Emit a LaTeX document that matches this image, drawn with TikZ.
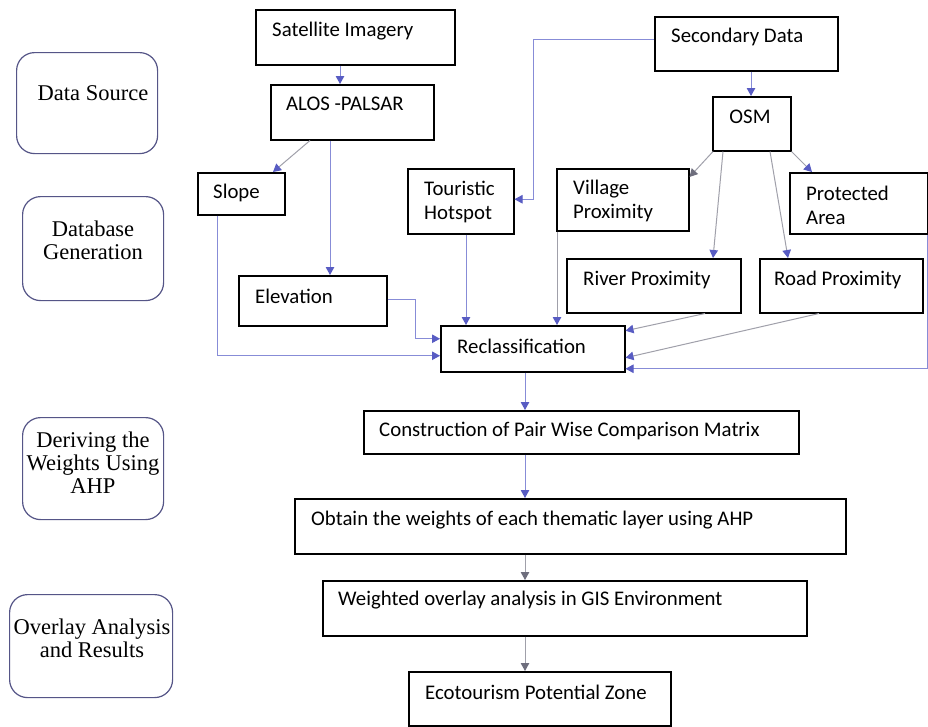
\documentclass[tikz,border=0pt]{standalone}
\usepackage{fontspec}
\setmainfont{Liberation Serif}
\newfontfamily\boxfont{Carlito}
\usetikzlibrary{arrows.meta}
\definecolor{lineblue}{RGB}{135,140,215}
\definecolor{headblue}{RGB}{88,92,195}
\definecolor{linegray}{RGB}{160,160,170}
\definecolor{headgray}{RGB}{110,110,125}
\definecolor{stageedge}{RGB}{85,85,135}
\tikzset{
  box/.style={draw=black, line width=1.5pt, anchor=north west, inner sep=0pt},
  stage/.style={draw=stageedge, line width=1.2pt, rounded corners=18pt, anchor=north west, inner sep=0pt},
  btxt/.style={font=\boxfont\fontsize{20.8}{24}\selectfont, anchor=west, inner sep=0pt, align=left},
  stxt/.style={font=\fontsize{22.5}{23}\selectfont, anchor=center, inner sep=0pt, align=center},
  conn/.style={draw=lineblue, line width=1pt, -{Triangle[length=8pt,width=8.5pt,fill=headblue,color=headblue]}},
  conng/.style={draw=linegray, line width=1pt, -{Triangle[length=8pt,width=8.5pt,fill=headblue,color=headblue]}},
  conngg/.style={draw=linegray, line width=1pt, -{Triangle[length=8pt,width=8.5pt,fill=headgray,color=headgray]}},
}
\begin{document}
\begin{tikzpicture}[x=1pt,y=-1pt]
\useasboundingbox[fill=white] (0,0) rectangle (928,726);
% stage boxes
\node[stage, minimum width=141pt, minimum height=101pt] (ds) at (16,52) {};
\node[stxt] (ds-t) at (93,93) {Data Source};
\node[stage, minimum width=141pt, minimum height=104pt] (dg) at (22,196) {};
\node[stxt] (dg-t) at (93,240) {Database\\Generation};
\node[stage, minimum width=141pt, minimum height=102pt] (dw) at (22,417) {};
\node[stxt] (dw-t) at (93,463) {Deriving the\\Weights Using\\AHP};
\node[stage, minimum width=163pt, minimum height=103pt] (oa) at (9,594) {};
\node[stxt] (oa-t) at (92,638) {Overlay Analysis\\and Results};
% boxes
\node[box, minimum width=199pt, minimum height=55pt] (sat) at (255,9) {};
\node[btxt] (sat-t) at (272,31) {Satellite Imagery};
\node[box, minimum width=163pt, minimum height=55pt] (alos) at (270,84) {};
\node[btxt] (alos-t) at (286,104) {ALOS -PALSAR};
\node[box, minimum width=87pt, minimum height=42pt] (slope) at (197,172) {};
\node[btxt] (slope-t) at (213,193) {Slope};
\node[box, minimum width=106pt, minimum height=65pt] (tour) at (407,168) {};
\node[btxt] (tour-t) at (424,202) {Touristic\\Hotspot};
\node[box, minimum width=183pt, minimum height=54pt] (sec) at (654,16) {};
\node[btxt] (sec-t) at (671,37) {Secondary Data};
\node[box, minimum width=78pt, minimum height=54pt] (osm) at (712,96) {};
\node[btxt, anchor=center] (osm-t) at (750,117) {OSM};
\node[box, minimum width=132pt, minimum height=62pt] (vil) at (556,168) {};
\node[btxt] (vil-t) at (573,201) {Village\\Proximity};
\node[box, minimum width=138pt, minimum height=61pt] (prot) at (789,172) {};
\node[btxt] (prot-t) at (806,205) {Protected\\Area};
\node[box, minimum width=148pt, minimum height=50pt] (elev) at (238,275) {};
\node[btxt] (elev-t) at (255,296) {Elevation};
\node[box, minimum width=174pt, minimum height=54pt] (river) at (566,258) {};
\node[btxt] (river-t) at (583,280) {River Proximity};
\node[box, minimum width=163pt, minimum height=54pt] (road) at (759,258) {};
\node[btxt] (road-t) at (774,280) {Road Proximity};
\node[box, minimum width=184pt, minimum height=46pt] (recl) at (440,325) {};
\node[btxt] (recl-t) at (457,346) {Reclassification};
\node[box, minimum width=435pt, minimum height=43pt] (cons) at (363,410) {};
\node[btxt] (cons-t) at (379,431) {Construction of Pair Wise Comparison Matrix};
\node[box, minimum width=551pt, minimum height=55pt] (obt) at (294,498) {};
\node[btxt] (obt-t) at (311,520) {Obtain the weights of each thematic layer using AHP};
\node[box, minimum width=484pt, minimum height=55pt] (wov) at (322,580) {};
\node[btxt] (wov-t) at (338,600) {Weighted overlay analysis in GIS Environment};
\node[box, minimum width=262pt, minimum height=54pt] (eco) at (408,671) {};
\node[btxt] (eco-t) at (425,692) {Ecotourism Potential Zone};
% connectors
\draw[conn] ([xshift=85pt]sat.south west) -- ([xshift=70pt]alos.north west);
\draw[conng] ([xshift=40pt]alos.south west) -- ([xshift=76pt]slope.north west);
\draw[conn] ([xshift=60pt]alos.south west) -- ([xshift=92pt]elev.north west);
\draw[conn] ([xshift=20pt]slope.south west) |- ([yshift=-7pt]recl.west);
\draw[conn] ([yshift=1pt]elev.east) -- ++(28,0) |- ([yshift=10pt]recl.west);
\draw[conn] ([xshift=59pt]tour.south west) -- ([xshift=59pt]tour.south west |- recl.north);
\draw[conn] ([yshift=4pt]sec.west) -- ++(-121,0) |- ([yshift=2pt]tour.east);
\draw[conng] ([xshift=1pt]vil.south west) -- ([xshift=1pt]vil.south west |- recl.north);
\draw[conn] ([xshift=97pt]sec.south west) -- ([xshift=97pt]sec.south west |- osm.north);
\draw[conngg] ([xshift=1pt]osm.south west) -- ([yshift=-9pt]vil.north east);
\draw[conng] ([xshift=11pt]osm.south west) -- ([xshift=147pt]river.north west);
\draw[conng] ([xshift=58pt]osm.south west) -- ([xshift=29pt]road.north west);
\draw[conng] (osm.south east) -- ([xshift=23pt]prot.north west);
\draw[conng] ([xshift=139pt]river.south west) -- ([yshift=18pt]recl.east);
\draw[conng] ([xshift=60pt]road.south west) -- ([yshift=-9pt]recl.east);
\draw[conn] ([xshift=-1pt]prot.south east) |- ([yshift=-20pt]recl.east);
\draw[conn] ([xshift=85pt]recl.south west) -- ([xshift=85pt]recl.south west |- cons.north);
\draw[conn] ([xshift=162pt]cons.south west) -- ([xshift=162pt]cons.south west |- obt.north);
\draw[conngg] ([xshift=231pt]obt.south west) -- ([xshift=231pt]obt.south west |- wov.north);
\draw[conngg] ([xshift=203pt]wov.south west) -- ([xshift=203pt]wov.south west |- eco.north);
\end{tikzpicture}
\end{document}
